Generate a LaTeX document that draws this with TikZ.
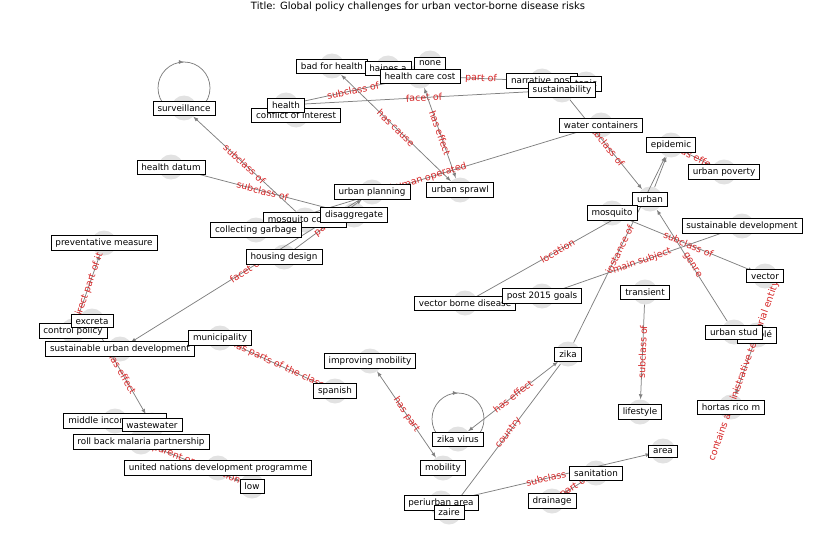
\documentclass[tikz,border=0pt]{standalone}
\usepackage{fontspec}
\setmainfont{DejaVu Sans}
\usetikzlibrary{decorations.markings}
\definecolor{edgegray}{RGB}{128,128,128}
\definecolor{labred}{RGB}{214,39,40}
\definecolor{dotgray}{RGB}{226,226,226}
\tikzset{
  dot/.style={circle,fill=dotgray,minimum size=25pt,inner sep=0pt},
  lbl/.style={draw=black,fill=white,line width=0.7pt,inner xsep=4.5pt,inner ysep=3.5pt,font=\fontsize{8.8}{10}\selectfont},
  edge/.style={draw=edgegray,line width=0.75pt,-latex},
  elab/.style={sloped,midway,text=labred,font=\fontsize{9.5}{10}\selectfont,inner sep=0pt},
  loopline/.style={draw=edgegray,line width=0.75pt,postaction={decorate},
    decoration={markings,mark=at position 0.75 with {\arrow{latex}}}}
}
\begin{document}
\begin{tikzpicture}[x=1pt,y=-1pt]
    \useasboundingbox (0,0) rectangle (837,559);
    \node[font=\fontsize{10}{12}\selectfont] (title) at (418,7) {Title: Global policy challenges for urban vector-borne disease risks};

    % grey dots
    \foreach \n/\x/\y in {surv/184/108, badh/332/66, hain/388/68, hcc/420/76, none/430/63,
        hlth/286/105, coi/296/115, narr/542/81, topc/586/84, sust/562/90, watc/601/125,
        epid/671/145, upov/724/172, urb/650/199, mosq/612/213, sdev/742/226, vect/765/276,
        tran/645/292, pple/757/335, ustd/734/332, hort/731/407, life/640/412, area/663/451,
        sani/596/473, drai/552/501, peri/441/503, zair/449/512, mobi/443/468, zvir/458/439,
        zika/568/354, imob/370/361, span/335/391, muni/220/338, sud/120/349, cpol/73/331,
        excr/92/321, prev/104/243, midi/115/421, wast/152/425, rbmp/141/442, undp/218/468,
        low/252/486, hdat/171/167, upla/372/192, uspr/460/190, mcon/305/220, disa/354/215,
        cgar/256/230, hous/284/257, vbd/465/303, ptf/542/296}
        \node[dot] (\n) at (\x,\y) {};

    % loops
    \draw[loopline] (surv) ++(0,-20) circle[radius=26];
    \draw[loopline] (zvir) ++(0,-20) circle[radius=26];

    % edges
    \draw[edge] (hdat) -- node[elab]{subclass of} (disa);
    \draw[edge] (mcon) -- node[elab]{subclass of} (surv);
    \draw[edge] (hlth) -- node[elab]{subclass of} (hcc);
    \draw[edge] (hlth) -- node[elab]{facet of} (sust);
    \draw[edge] (hcc) -- node[elab]{part of} (narr);
    \draw[edge,latex-latex] (uspr) -- node[elab]{has cause} (badh);
    \draw[edge,latex-latex] (uspr) -- node[elab]{has effect} (hcc);
    \draw[edge] (cgar) -- node[elab]{human operated} (watc);
    \draw[edge] (sust) -- node[elab]{subclass of} (urb);
    \draw[edge] (urb) -- (epid);
    \draw[edge] (epid) -- node[elab]{has effect} (upov);
    \draw[edge] (ustd) -- node[elab]{genre} (urb);
    \draw[edge] (mosq) -- node[elab]{subclass of} (vect);
    \draw[edge] (ptf) -- node[elab]{main subject} (sdev);
    \draw[edge] (zika) -- node[elab]{instance of} (epid);
    \draw[edge] (vbd) -- node[elab]{location} (urb);
    \draw[edge] (tran) -- node[elab]{subclass of} (life);
    \draw[edge] (pple) -- node[elab]{contains administrative territorial entity} (hort);
    \draw[edge] (peri) -- node[elab]{subclass of} (area);
    \draw[edge] (sani) -- node[elab]{part of} (drai);
    \draw[edge,latex-latex] (zika) -- node[elab]{has effect} (zvir);
    \draw[edge] (zika) -- node[elab]{country} (zair);
    \draw[edge,latex-latex] (imob) -- node[elab]{has part} (mobi);
    \draw[edge] (muni) -- node[elab]{has parts of the class} (span);
    \draw[edge] (upla) -- node[elab]{facet of} (sud);
    \draw[edge] (hous) -- node[elab]{part of} (upla);
    \draw[edge] (cpol) -- node[elab]{direct part of it} (prev);
    \draw[edge] (excr) -- node[elab]{has effect} (wast);
    \draw[edge] (rbmp) -- node[elab]{parent organization} (low);

    % labels
    \foreach \n/\t in {surv/surveillance, badh/bad for health, hain/haines a, hcc/health care cost,
        none/none, coi/conflict of interest, hlth/health, narr/narrative post, topc/topic,
        sust/sustainability, watc/water containers, epid/epidemic, upov/urban poverty,
        urb/urban, mosq/mosquito, sdev/sustainable development, vect/vector, tran/transient,
        pple/peuplé, ustd/urban stud, hort/hortas rico m, life/lifestyle, area/area,
        sani/sanitation, drai/drainage, peri/periurban area, zair/zaire, mobi/mobility,
        zvir/zika virus, zika/zika, imob/improving mobility, span/spanish, cpol/control policy,
        excr/excreta, sud/sustainable urban development, muni/municipality,
        prev/preventative measure, midi/middle income group, wast/wastewater,
        rbmp/roll back malaria partnership, undp/united nations development programme, low/low,
        hdat/health datum, upla/urban planning, uspr/urban sprawl, mcon/mosquito control,
        cgar/collecting garbage, disa/disaggregate, hous/housing design,
        vbd/vector borne disease, ptf/post 2015 goals}
        \node[lbl] (\n-t) at (\n) {\t};
\end{tikzpicture}
\end{document}
